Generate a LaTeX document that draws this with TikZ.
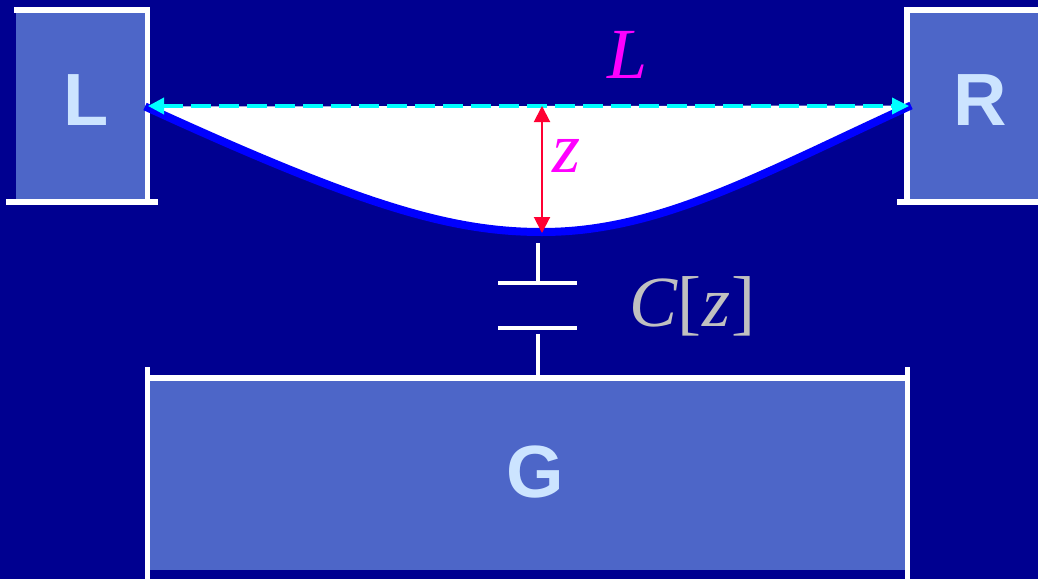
\documentclass[tikz,border=0pt]{standalone}
\usepackage{fontspec}
\setmainfont{Liberation Sans}
\newfontfamily\mathserif{Liberation Serif}
\usetikzlibrary{arrows.meta}
\definecolor{bgnavy}{HTML}{000090}
\definecolor{boxblue}{HTML}{4D66C8}
\definecolor{lettercol}{HTML}{CCE4FF}
\definecolor{wireblue}{HTML}{0000FF}
\definecolor{arrowred}{HTML}{FF0033}
\definecolor{labelgray}{HTML}{C0C0C0}
\definecolor{spancyan}{HTML}{00FFFF}
\definecolor{labelmagenta}{HTML}{FF00FF}
\tikzset{
  edgeline/.style={draw=white,line width=5.5pt},
  letter/.style={text=lettercol,font=\fontsize{74}{74}\selectfont\bfseries,inner sep=0pt},
  mathlabel/.style={font=\mathserif\itshape\fontsize{72}{72}\selectfont,inner sep=0pt},
  platecol/.style={draw=white,line width=3.5pt}
}
\begin{document}
\begin{tikzpicture}[x=1pt,y=-1pt]
\useasboundingbox (0,0) rectangle (1038,579);
\fill[bgnavy] (0,0) rectangle (1038,579);
% blocks
\fill[boxblue] (16,10) rectangle (147,202);
\fill[boxblue] (908,10) rectangle (1038,202);
\fill[boxblue] (148,378) rectangle (907,570);
% block edges
\draw[edgeline] (14,10) -- (150,10);
\draw[edgeline] (147.5,10) -- (147.5,202);
\draw[edgeline] (6,202) -- (158,202);
\draw[edgeline] (1038,10) -- (907,10) -- (907,202);
\draw[edgeline] (897,202) -- (1038,202);
\draw[edgeline] (147.5,367) -- (147.5,579);
\draw[edgeline] (907.5,367) -- (907.5,579);
\draw[edgeline] (147.5,378) -- (907.5,378);
% beam
\coordinate (lpin) at (145,106.5);
\coordinate (rpin) at (911,105.5);
\coordinate (top) at (542,106);
\coordinate (bottom) at (542,233);
\fill[white] (lpin) .. controls (360,205) and (450,232) .. (542,232) .. controls (660,232) and (761,174) .. (rpin) -- cycle;
\draw[wireblue,line width=8pt] (lpin) .. controls (360,205) and (450,232) .. (542,232) .. controls (660,232) and (761,174) .. (rpin);
% span arrow
\coordinate (la) at (148,106);
\coordinate (ra) at (909,106);
\draw[spancyan,line width=3.5pt,dash pattern=on 20pt off 8pt,{Triangle[length=16pt,width=16pt]}-{Triangle[length=17pt,width=16pt]}] (la) -- (ra);
% z arrow
\draw[arrowred,line width=2pt,{Triangle[length=16pt,width=16pt]}-{Triangle[length=16pt,width=16pt]}] (top) -- (bottom);
% capacitor
\coordinate (s1) at (538,243);
\coordinate (s2) at (538,283);
\coordinate (s3) at (538,334);
\coordinate (s4) at (538,376);
\coordinate (p1l) at (498,283);
\coordinate (p1r) at (577,283);
\coordinate (p2l) at (498,328);
\coordinate (p2r) at (577,328);
\draw[platecol] (s1) -- (s2);
\draw[platecol] (p1l) -- (p1r);
\draw[platecol] (p2l) -- (p2r);
\draw[platecol] (s3) -- (s4);
% labels
\node[letter] (nL) at (86,100) {L};
\node[letter] (nR) at (980,100) {R};
\node[letter] (nG) at (535,472) {G};
\node[mathlabel,text=labelmagenta] (nSpan) at (628,55) {L};
\node[mathlabel,text=labelmagenta] (nz) at (567,156) {z};
\node[mathlabel,text=labelgray] (nC) at (692,306) {C{\upshape[}\kern1pt z\kern1pt{\upshape]}};
\end{tikzpicture}
\end{document}
